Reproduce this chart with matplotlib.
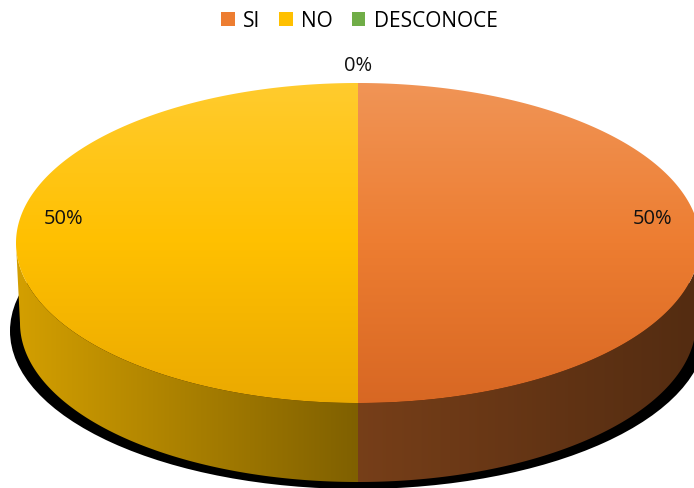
import numpy as np
import matplotlib.pyplot as plt
from matplotlib.patches import Polygon, Patch, Ellipse
from matplotlib.colors import to_rgb

plt.rcParams['font.family'] = ['Open Sans', 'DejaVu Sans']

labels = ['SI', 'NO', 'DESCONOCE']
values = [50, 50, 0]
colors = ['#ED7D31', '#FFC000', '#70AD47']

# geometry of the 3d disc, in pixels
CX, CY, A, B = 358, 244, 342, 160
DEPTH = 80
A_BOT, B_BOT = 338, 159


def ell(t, cx, cy, a, b):
    return cx + a * np.cos(t), cy - b * np.sin(t)


def mix(c1, c2, w):
    return np.asarray(c1) * (1 - w) + np.asarray(c2) * w


def gradient_fill(ax, poly, func, zorder):
    x0, y0 = poly.min(0)
    x1, y1 = poly.max(0)
    xs = np.linspace(x0, x1, int(x1 - x0) + 2)
    ys = np.linspace(y0, y1, int(y1 - y0) + 2)
    X, Y = np.meshgrid(xs, ys)
    img = np.clip(func(X, Y), 0, 1)
    patch = Polygon(poly, closed=True, facecolor='none', edgecolor='none')
    ax.add_patch(patch)
    im = ax.imshow(img, extent=(x0, x1, y1, y0), origin='upper',
                   interpolation='bilinear', zorder=zorder, aspect='auto')
    im.set_clip_path(patch)


def top_shade(base):
    base = np.array(to_rgb(base))
    top = mix(base, [1, 1, 1], 0.18)
    bot = base ** 1.15 * 0.92

    def f(X, Y):
        t = np.clip((Y - (CY - B)) / (2 * B), 0, 1)[..., None]
        up = mix(top, base, np.clip(t / 0.5, 0, 1))
        dn = mix(base, bot, np.clip((t - 0.5) / 0.5, 0, 1))
        return np.where(t < 0.5, up, dn)
    return f


def side_shade(base):
    base = np.array(to_rgb(base))

    def f(X, Y):
        k = np.interp(X, [CX - A, CX, CX + A], [0.83, 0.5, 0.35])[..., None]
        return base * k
    return f


def front_parts(t1, t2):
    # pieces of [t2, t1] that face the viewer (sin < 0)
    parts = []
    for k in range(-1, 3):
        lo, hi = -np.pi - 2 * np.pi * k, -2 * np.pi * k
        a, b = max(lo, t2), min(hi, t1)
        if b > a:
            parts.append((a, b))
    return parts


fig = plt.figure(figsize=(6.94, 4.89), dpi=100)
ax = fig.add_axes([0, 0, 1, 1])
ax.axis('off')

total = sum(values)
angles = []
start = np.pi / 2
for v in values:
    end = start - 2 * np.pi * v / total
    angles.append((start, end))
    start = end

# shadow under the disc
ax.add_patch(Ellipse((CX, CY + DEPTH + 8), 2 * (A_BOT + 10), 2 * (B_BOT - 1),
                     facecolor='black', edgecolor='none', zorder=1))

# sides
for (t1, t2), c, v in zip(angles, colors, values):
    if v == 0:
        continue
    for a, b in front_parts(t1, t2):
        ts = np.linspace(a, b, 200)
        xt, yt = ell(ts, CX, CY, A, B)
        xb, yb = ell(ts[::-1], CX, CY + DEPTH, A_BOT, B_BOT)
        poly = np.column_stack([np.r_[xt, xb], np.r_[yt, yb]])
        gradient_fill(ax, poly, side_shade(c), 2)

# top faces
for (t1, t2), c, v in zip(angles, colors, values):
    if v == 0:
        continue
    ts = np.linspace(t1, t2, 400)
    x, y = ell(ts, CX, CY, A, B)
    poly = np.column_stack([np.r_[CX, x], np.r_[CY, y]])
    gradient_fill(ax, poly, top_shade(c), 3)

# data labels
for (t1, t2), v in zip(angles, values):
    mid = (t1 + t2) / 2
    if v == 0:
        x, y = ell(mid, CX, CY, 1.11 * A, 1.11 * B)
    else:
        x, y = ell(mid, CX, CY, 0.86 * A, 0.86 * B)
        y -= 25
    ax.text(x, y, f'{v / total * 100:.0f}%', ha='center', va='center',
            fontsize=14.5, color='#111111', zorder=5)

handles = [Patch(facecolor=c, edgecolor='none') for c in colors]
ax.legend(handles, labels, loc='upper center', bbox_to_anchor=(0.518, 1.015),
          ncol=3, frameon=False, fontsize=15, handlelength=0.65,
          handleheight=0.65, handletextpad=0.4, columnspacing=0.9)

ax.set_xlim(0, 694)
ax.set_ylim(489, 0)

fig.savefig('out.png', dpi=100)
